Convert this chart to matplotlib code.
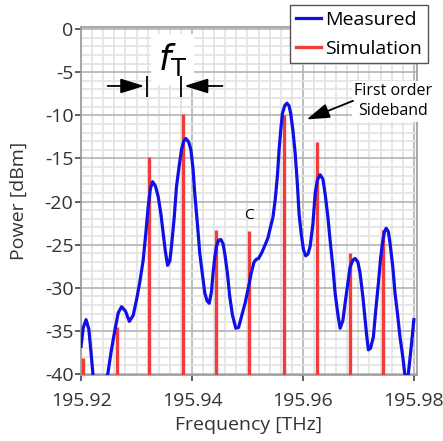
import numpy as np
import matplotlib
matplotlib.use("Agg")
import matplotlib.pyplot as plt
from matplotlib.ticker import MultipleLocator

# measured spectrum (traced)
freq_meas = [195.9200, 195.9204, 195.9209, 195.9214, 195.9218, 195.9222, 195.9230,
             195.9240, 195.9247, 195.9254, 195.9261, 195.9267, 195.9273, 195.9280,
             195.9287, 195.9294, 195.9300, 195.9306, 195.9312, 195.9317, 195.9321,
             195.9325, 195.9329, 195.9334, 195.9339, 195.9344, 195.9348, 195.9352,
             195.9356, 195.9360, 195.9363, 195.9368, 195.9372, 195.9377, 195.9381,
             195.9385, 195.9389, 195.9394, 195.9398, 195.9402, 195.9405, 195.9410,
             195.9414, 195.9419, 195.9423, 195.9427, 195.9431, 195.9435, 195.9438,
             195.9441, 195.9444, 195.9448, 195.9452, 195.9456, 195.9459, 195.9464,
             195.9468, 195.9473, 195.9479, 195.9484, 195.9489, 195.9496, 195.9502,
             195.9507, 195.9512, 195.9516, 195.9520, 195.9526, 195.9532, 195.9537,
             195.9541, 195.9546, 195.9550, 195.9554, 195.9557, 195.9560, 195.9563,
             195.9567, 195.9571, 195.9575, 195.9578, 195.9582, 195.9586, 195.9590,
             195.9593, 195.9597, 195.9601, 195.9605, 195.9609, 195.9613, 195.9618,
             195.9622, 195.9626, 195.9631, 195.9636, 195.9640, 195.9645, 195.9649,
             195.9654, 195.9658, 195.9663, 195.9667, 195.9672, 195.9676, 195.9681,
             195.9685, 195.9690, 195.9694, 195.9699, 195.9703, 195.9708, 195.9712,
             195.9715, 195.9718, 195.9722, 195.9727, 195.9731, 195.9736, 195.9740,
             195.9744, 195.9747, 195.9750, 195.9754, 195.9757, 195.9762, 195.9766,
             195.9771, 195.9775, 195.9780, 195.9784, 195.9787, 195.9790, 195.9795,
             195.9800]
power_meas = [-36.8, -34.6, -33.7, -34.8, -37.5, -40.5, -44.0,
              -44.0, -40.5, -37.5, -34.9, -32.9, -32.2, -32.7,
              -33.9, -33.2, -31.4, -29.3, -26.8, -23.5, -20.6,
              -18.5, -17.7, -18.2, -19.4, -21.5, -23.7, -25.8,
              -27.4, -26.9, -25.2, -21.8, -18.3, -15.8, -14.0,
              -13.0, -12.7, -13.1, -14.0, -16.3, -19.1, -22.8,
              -26.0, -28.6, -30.6, -31.5, -31.8, -30.5, -28.3,
              -26.5, -25.2, -24.5, -24.4, -24.9, -26.0, -28.4,
              -31.0, -33.2, -34.7, -34.6, -33.4, -31.7, -29.9,
              -28.2, -27.0, -26.7, -26.6, -25.9, -25.0, -24.2,
              -23.1, -21.8, -19.8, -17.0, -14.0, -11.7, -9.8,
              -8.9, -8.6, -8.9, -9.8, -11.8, -14.4, -18.0,
              -21.4, -23.8, -25.6, -26.3, -26.1, -25.2, -22.6,
              -19.1, -17.5, -16.9, -17.4, -19.1, -21.8, -24.5,
              -27.6, -30.6, -33.1, -34.7, -33.8, -31.8, -29.5,
              -27.6, -26.8, -26.6, -27.0, -28.3, -31.0, -33.7,
              -35.6, -37.2, -37.0, -35.7, -32.8, -29.5, -26.6,
              -24.5, -23.5, -23.1, -23.5, -24.8, -27.6, -30.6,
              -33.3, -35.7, -38.0, -40.2, -41.0, -40.0, -37.0,
              -33.7]

# simulated comb lines
freq_sim = [195.9204, 195.9264, 195.9323, 195.9383, 195.9443,
            195.9503, 195.9566, 195.9625, 195.9685, 195.9745]
power_sim = [-38.1, -34.5, -14.8, -9.8, -23.3,
             -23.4, -10.0, -13.1, -26.0, -23.3]

ytick_vals = [0, -5, -10, -15, -20, -25, -30, -35, -40]
xtick_vals = [195.92, 195.94, 195.96, 195.98]

BLUE = "#1010e6"
RED = "#f23c3c"
TXT = "#333333"

plt.rcParams["font.family"] = ["Open Sans", "DejaVu Sans"]
plt.rcParams["mathtext.fontset"] = "dejavusans"

fig = plt.figure(figsize=(4.43, 4.41), dpi=100)
ax = fig.add_axes([0.183, 0.150, 0.758, 0.789])

ax.set_xlim(195.92, 195.98054)
ax.set_ylim(-40.1, 0.25)

# grid
ax.xaxis.set_minor_locator(MultipleLocator(0.002))
ax.yaxis.set_minor_locator(MultipleLocator(1))
ax.grid(which="minor", color="#e2e2e2", linewidth=1.2)
ax.grid(which="major", color="#b4b4b4", linewidth=1.2)
ax.set_axisbelow(True)

ax.vlines(freq_sim, -40.1, power_sim, color=RED, linewidth=2.4, zorder=3)
ax.plot(freq_meas, power_meas, color=BLUE, linewidth=2.3, zorder=4, label="Measured")
ax.plot([], [], color=RED, linewidth=2.4, label="Simulation")

ax.set_xticks(xtick_vals)
ax.set_xticklabels([f"{v:.2f}" for v in xtick_vals])
ax.set_yticks(ytick_vals)
ax.set_yticklabels([str(v) for v in ytick_vals])
ax.tick_params(which="major", direction="out", length=4.5, width=1.2, color="#444444",
               labelsize=14, labelcolor=TXT)
ax.tick_params(axis="x", pad=7.5)
ax.tick_params(axis="y", pad=1)
ax.tick_params(which="minor", length=0)
for s in ax.spines.values():
    s.set_color("#9a9a9a")
    s.set_linewidth(1.2)

ax.set_xlabel("Frequency [THz]", fontsize=14, color=TXT, labelpad=5)
ax.set_ylabel("Power [dBm]", fontsize=14, color=TXT, labelpad=12)

# f_T marker
ax.text(195.9365, -3.5, r"$f_{\mathsf{T}}$", fontsize=25, ha="center", va="center",
        bbox=dict(facecolor="white", edgecolor="none", pad=5), zorder=5)
ax.vlines([195.9319, 195.9381], -5.5, -7.9, color="black", linewidth=1.3, zorder=6)
ax.annotate("", xy=(195.9319, -6.6), xytext=(195.9243, -6.6),
            arrowprops=dict(arrowstyle="-|>,head_length=1.45,head_width=0.45", color="black", lw=1.3),
            zorder=6)
ax.annotate("", xy=(195.9381, -6.6), xytext=(195.9460, -6.6),
            arrowprops=dict(arrowstyle="-|>,head_length=1.45,head_width=0.45", color="black", lw=1.3),
            zorder=6)

# carrier label
ax.text(195.9502, -21.6, "C", fontsize=11, ha="center", va="center", color="black", zorder=6)

# sideband annotation
ax.text(195.9763, -8.35, "First order\nSideband", fontsize=11.5, ha="center", va="center",
        linespacing=1.3, color="black",
        bbox=dict(facecolor="white", edgecolor="none", pad=2), zorder=6)
ax.annotate("", xy=(195.9602, -10.6), xytext=(195.9695, -8.2),
            arrowprops=dict(arrowstyle="-|>,head_length=1.4,head_width=0.45", color="black", lw=1.3),
            zorder=7)

leg = ax.legend(loc="upper right", bbox_to_anchor=(1.033, 1.063), fontsize=14,
                handlelength=1.3, handletextpad=0.2, borderpad=0.3, labelspacing=0.55,
                borderaxespad=0, fancybox=False, framealpha=1, edgecolor="#555555")
leg.get_frame().set_linewidth(1.0)
leg.set_zorder(10)

fig.savefig("out.png", dpi=100)
